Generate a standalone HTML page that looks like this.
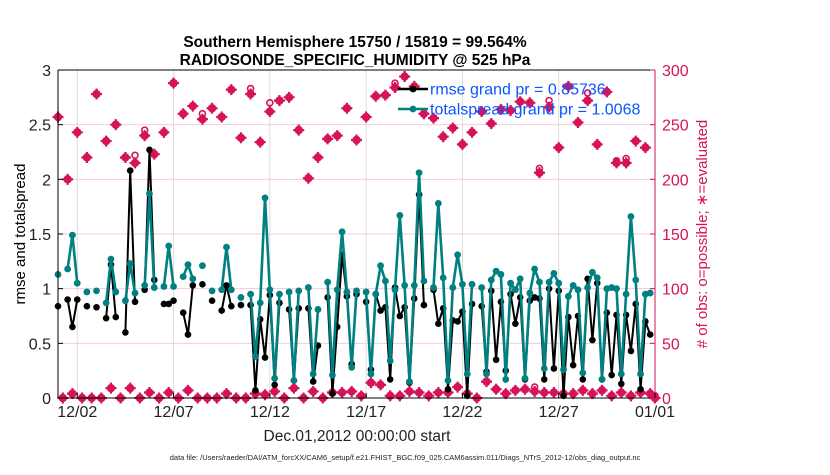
<!DOCTYPE html>
<html><head><meta charset="utf-8"><style>
body{margin:0;background:#fff;}
svg text{font-family:"Liberation Sans",sans-serif;}
</style></head><body>
<svg id="chart" width="830" height="470" xmlns="http://www.w3.org/2000/svg">
<rect width="830" height="470" fill="#fff"/>
<g id="grid"></g>
<g id="marks"></g>
<g id="axes"></g>
<text x="355" y="47" text-anchor="middle" font-size="15.5" font-weight="bold">Southern Hemisphere 15750 / 15819 = 99.564%</text>
<text x="355" y="65" text-anchor="middle" font-size="15.5" font-weight="bold">RADIOSONDE_SPECIFIC_HUMIDITY @ 525 hPa</text>
<text transform="translate(25,234) rotate(-90)" text-anchor="middle" font-size="15">rmse and totalspread</text>
<text transform="translate(707,234) rotate(-90)" text-anchor="middle" font-size="15" fill="#d6135a"># of obs: o=possible; ∗=evaluated</text>
<text x="357" y="441" text-anchor="middle" font-size="15.5" fill="#222">Dec.01,2012 00:00:00 start</text>
<text x="405" y="460" text-anchor="middle" font-size="7.5" fill="#222">data file: /Users/raeder/DAI/ATM_forcXX/CAM6_setup/f.e21.FHIST_BGC.f09_025.CAM6assim.011/Diags_NTrS_2012-12/obs_diag_output.nc</text>
<g id="legend"></g>
</svg>
<script>
const N = null;
const rmse = [0.84,N,0.90,0.65,0.90,N,0.84,N,0.83,N,0.73,1.22,0.74,N,0.60,2.08,0.88,N,0.99,2.27,1.08,N,0.86,0.86,0.89,N,0.78,0.58,1.03,N,1.04,N,0.89,N,0.80,1.03,0.84,N,0.85,N,0.85,0.07,0.72,0.37,0.94,0.12,0.87,N,0.81,0.16,0.82,N,0.82,0.15,0.48,N,0.92,0.04,0.65,1.31,0.93,0.31,0.95,N,0.88,0.26,0.95,0.80,0.83,0.17,1.01,0.75,0.83,0.14,0.91,1.86,0.85,N,0.99,0.68,0.82,0.08,0.71,0.70,0.79,0.02,0.86,N,0.84,0.24,0.98,0.35,0.88,0.25,0.95,0.68,0.92,0.17,0.89,0.92,0.91,0.17,1.00,0.27,0.98,0.02,0.74,0.30,0.75,0.17,1.09,0.53,1.05,0.17,0.78,0.21,0.76,0.13,0.76,0.43,0.86,0.08,0.70,0.58,N];
const spread = [1.13,N,1.18,1.49,1.05,N,0.97,N,0.98,N,0.87,1.27,0.97,N,0.89,1.23,0.96,N,1.03,1.87,1.01,N,1.02,1.39,1.02,N,1.11,1.22,1.09,N,1.21,N,0.98,N,0.99,1.38,0.99,N,0.92,N,0.95,0.38,0.87,1.83,0.99,0.18,0.95,N,0.97,0.16,0.98,N,1.01,0.22,0.81,N,1.06,0.21,0.99,1.52,0.97,0.28,0.98,N,0.97,0.22,0.95,1.21,1.07,0.34,0.99,1.67,1.03,0.15,1.03,2.06,1.07,N,1.01,1.78,1.10,0.16,1.01,1.31,1.04,0.22,1.04,N,1.01,0.22,1.08,1.16,1.13,0.17,1.05,0.99,1.09,0.18,0.96,1.18,1.06,0.27,1.06,1.14,1.05,0.26,0.93,1.03,0.99,0.23,1.01,1.15,1.10,0.17,1.00,1.01,1.00,0.22,0.95,1.66,1.08,0.22,0.95,0.96,N];
const possible = [257,0,200,4,243,0,220,0,278,0,235,9,250,0,220,9,222,0,245,5,223,0,243,5,288,0,260,7,267,0,260,0,265,0,257,4,282,0,238,0,283,4,234,3,270,6,272,0,275,9,245,0,201,6,220,0,237,5,240,5,265,6,236,2,257,14,276,12,277,2,288,2,294,6,285,5,260,2,256,5,239,5,247,10,232,4,243,0,262,15,251,8,264,4,263,7,271,8,270,10,210,5,272,5,229,4,285,4,252,7,279,4,232,7,280,2,217,5,219,2,235,5,229,4,2];
const evaluated = [257,0,200,4,243,0,220,0,278,0,235,9,250,0,220,9,215,0,240,5,223,0,243,5,288,0,260,7,267,0,255,0,265,0,257,4,282,0,238,0,278,4,234,3,262,6,272,0,275,9,245,0,201,6,220,0,237,5,240,5,265,6,236,2,257,14,276,12,277,2,284,2,294,6,285,5,260,2,256,5,239,5,247,10,232,4,243,0,262,15,251,8,264,4,263,7,271,8,270,6,206,5,266,5,229,4,285,4,252,7,272,4,232,7,280,2,215,5,215,2,235,5,229,4,0];
const xTickLabels = ["12/02","12/07","12/12","12/17","12/22","12/27","01/01"];
const xTickDays = [1,6,11,16,21,26,31];
const yLeftTicks = ["0","0.5","1","1.5","2","2.5","3"];
const yRightTicks = ["0","50","100","150","200","250","300"];

const X0=58, X1=655, Y0=398, Y1=70;
const xs = d => X0 + (X1-X0)*d/31;
const xj = j => xs(j/4);
const yl = v => Y0 - (Y0-Y1)*v/3;
const yr = n => Y0 - (Y0-Y1)*n/300;
const NS="http://www.w3.org/2000/svg";
function mk(tag, attrs, parent){const e=document.createElementNS(NS,tag);for(const k in attrs)e.setAttribute(k,attrs[k]);parent.appendChild(e);return e;}
const grid=document.getElementById('grid'), marks=document.getElementById('marks'), axes=document.getElementById('axes'), legend=document.getElementById('legend');
const PINK="#d6135a", TEAL="#008080";

for(let i=1;i<6;i++){const g=mk('line',{x1:X0,x2:X1,y1:yl(i*0.5),y2:yl(i*0.5),stroke:'#f5cbd9','stroke-width':1},grid);

}
xTickDays.forEach(d=>{const g=mk('line',{x1:xs(d),x2:xs(d),y1:Y1,y2:Y0,stroke:'#dcdcdc','stroke-width':1},grid);

});

function obsMarker(j,n,kind){
  const x=xj(j), y=yr(n);
  const g=mk('g',{},marks);
  
  
  if(kind==='o'){mk('circle',{cx:x,cy:y,r:3,fill:'none',stroke:PINK,'stroke-width':1.6},g);}
  else{
    mk('circle',{cx:x,cy:y,r:4.2,fill:PINK},g);
    mk('path',{d:`M${x-5.5},${y}H${x+5.5}M${x},${y-5.5}V${y+5.5}`,stroke:PINK,'stroke-width':2.2},g);
  }
}
possible.forEach((n,j)=>{ if(n!==evaluated[j]) obsMarker(j,n,'o'); });
evaluated.forEach((n,j)=>obsMarker(j,n,'s'));

function series(vals,color,w,r,name){
  let d='';let pen=false;
  vals.forEach((v,j)=>{ if(v===null){pen=false;return;} d+=(pen?'L':'M')+xj(j).toFixed(1)+','+yl(v).toFixed(1); pen=true;});
  const p=mk('path',{d:d,fill:'none',stroke:color,'stroke-width':w,'stroke-linejoin':'round'},marks);
  
  
  vals.forEach((v,j)=>{ if(v===null)return;
    const c=mk('circle',{cx:xj(j),cy:yl(v),r:r,fill:color},marks);
    
    });
}
series(rmse,'#000',2,3.3,'rmse');
series(spread,TEAL,2.6,3.4,'totalspread');

const box=[['M'+X0+','+Y1+'H'+X1,'#000','axis-top'],['M'+X0+','+Y1+'V'+Y0,'#000','y-axis-left'],['M'+X0+','+Y0+'H'+X1,'#000','x-axis'],['M'+X1+','+Y1+'V'+Y0,PINK,'y-axis-right']];
box.forEach(b=>{const p=mk('path',{d:b[0],stroke:b[1],'stroke-width':1,fill:'none'},axes);

});
yLeftTicks.forEach((t,i)=>{const y=yl(i*0.5);
  mk('line',{x1:X0,x2:X0+5,y1:y,y2:y,stroke:'#000'},axes);
  const tx=mk('text',{x:X0-7,y:y+6,'text-anchor':'end','font-size':16,fill:'#222'},axes);tx.textContent=t;
  
  });
yRightTicks.forEach((t,i)=>{const y=yr(i*50);
  mk('line',{x1:X1-5,x2:X1,y1:y,y2:y,stroke:PINK},axes);
  const tx=mk('text',{x:X1+7,y:y+6,'font-size':16,fill:PINK},axes);tx.textContent=t;
  
  });
xTickLabels.forEach((t,i)=>{const x=xs(xTickDays[i]);
  mk('line',{x1:x,x2:x,y1:Y0,y2:Y0-5,stroke:'#000'},axes);
  const tx=mk('text',{x:x,y:Y0+19,'text-anchor':'middle','font-size':16,fill:'#222'},axes);tx.textContent=t;
  
  });

[['rmse grand pr = 0.85736','#000',89],['totalspread grand pr = 1.0068',TEAL,109]].forEach(l=>{
  mk('line',{x1:398,x2:428,y1:l[2],y2:l[2],stroke:l[1],'stroke-width':2.5},legend);
  mk('circle',{cx:413,cy:l[2],r:3.4,fill:l[1]},legend);
  const tx=mk('text',{x:430,y:l[2]+5.5,'font-size':16,fill:'#0a55ff'},legend);tx.textContent=l[0];
  
  
});
</script>
</body></html>
